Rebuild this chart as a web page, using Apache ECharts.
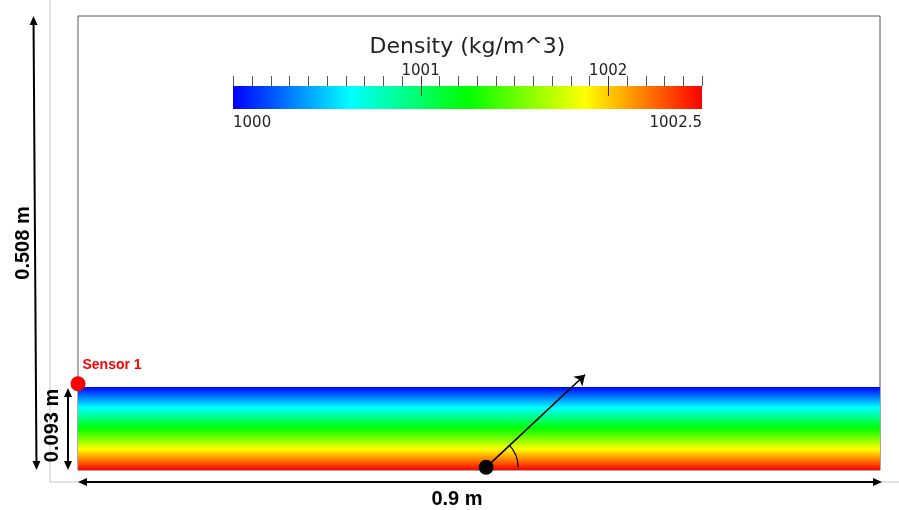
<!DOCTYPE html>
<html>
<head>
<meta charset="utf-8">
<script src="https://cdn.jsdelivr.net/npm/echarts@6/dist/echarts.min.js"></script>
<style>
html,body{margin:0;padding:0;background:#fff}
#main{width:899px;height:510px}
</style>
</head>
<body>
<div id="main"></div>
<script>
// tank geometry (m)
var tankWidth = 0.9
var tankHeight = 0.508
var layerDepth = 0.093
// density colour scale (kg/m^3)
var densityMin = 1000
var densityMax = 1002.5
var densityStep = 0.1
var densityTickLabels = [1001, 1002]
var densityEndLabels = [1000, 1002.5]
var rainbow = ['#0000ff', '#00ffff', '#00ff00', '#ffff00', '#ff0000']
// points [x, z] in m
var sensorPos = [0, 0.0965]
var sourcePos = [0.458, 0.003]
var beamEnd = [0.569, 0.1066]

// colour bar tick marks every 0.1, long ones where labelled
var barTicks = []
for (var k = 0; densityMin + k * densityStep <= densityMax + 1e-9; k++) {
    var v = Math.round((densityMin + k * densityStep) * 10) / 10
    barTicks.push([v, densityTickLabels.indexOf(v) >= 0 ? 1 : 0])
}

var chart = echarts.init(document.getElementById('main'))

function stops(){
    return rainbow.map(function(c, i){ return {offset: i / (rainbow.length - 1), color: c} })
}

var option = {
    backgroundColor: '#fff',
    animation: false,
    grid: [
        {left: 78, top: 16, width: 802, height: 454, show: true, borderColor: '#555', borderWidth: 1, backgroundColor: 'transparent'},
        {left: 233, top: 86, width: 469, height: 23}
    ],
    xAxis: [
        {gridIndex: 0, type: 'value', min: 0, max: tankWidth, show: false},
        {
            gridIndex: 1, type: 'value', position: 'top', min: densityMin, max: densityMax,
            axisLine: {show: false}, axisTick: {show: false},
            axisLabel: {customValues: densityTickLabels, formatter: function(v){ return String(v) },
                margin: 7, fontSize: 15, color: '#222', fontFamily: 'DejaVu Sans'},
            splitLine: {show: false}
        },
        {
            gridIndex: 1, type: 'value', position: 'bottom', min: densityMin, max: densityMax,
            axisLine: {show: false}, axisTick: {show: false},
            axisLabel: {customValues: densityEndLabels, formatter: function(v){ return String(v) }, margin: 7,
                fontSize: 15, color: '#222', fontFamily: 'DejaVu Sans', alignMinLabel: 'left', alignMaxLabel: 'right'},
            splitLine: {show: false}
        }
    ],
    yAxis: [
        {gridIndex: 0, type: 'value', min: 0, max: tankHeight, show: false},
        {gridIndex: 1, type: 'value', min: 0, max: 1, show: false}
    ],
    series: [
        {
            // stratified layer, density 1000 at the top to 1002.5 at the bottom
            type: 'custom', xAxisIndex: 0, yAxisIndex: 0, z: 2,
            data: [[0, tankWidth, 0, layerDepth]],
            renderItem: function(params, api){
                var p0 = api.coord([api.value(0), api.value(3)])
                var p1 = api.coord([api.value(1), api.value(2)])
                return {type: 'rect', shape: {x: p0[0], y: p0[1], width: p1[0] - p0[0], height: p1[1] - p0[1]},
                    style: {fill: new echarts.graphic.LinearGradient(0, 0, 0, 1, stops())}}
            }
        },
        {
            // colour bar
            type: 'custom', xAxisIndex: 1, yAxisIndex: 1, z: 2,
            data: [[densityMin, densityMax]],
            renderItem: function(params, api){
                var p0 = api.coord([api.value(0), 1])
                var p1 = api.coord([api.value(1), 0])
                return {type: 'rect', shape: {x: p0[0], y: p0[1], width: p1[0] - p0[0], height: p1[1] - p0[1]},
                    style: {fill: new echarts.graphic.LinearGradient(0, 0, 1, 0, stops())}}
            }
        },
        {
            // colour bar ticks
            type: 'custom', xAxisIndex: 1, yAxisIndex: 1, z: 5,
            data: barTicks,
            renderItem: function(params, api){
                var p = api.coord([api.value(0), 1])
                var x = Math.round(p[0]) + 0.5
                var major = api.value(1) === 1
                return {type: 'line', shape: {x1: x, y1: p[1] - 10, x2: x, y2: p[1] + (major ? 10 : 0)},
                    style: {stroke: major ? '#333' : '#555', lineWidth: 1}}
            }
        },
        {
            type: 'lines', coordinateSystem: 'cartesian2d', xAxisIndex: 0, yAxisIndex: 0, z: 4,
            symbol: ['none', 'arrow'], symbolSize: 10,
            lineStyle: {color: '#000', width: 1.6, opacity: 1},
            data: [{coords: [sourcePos, beamEnd]}]
        },
        {
            // angle arc at the source
            type: 'custom', xAxisIndex: 0, yAxisIndex: 0, z: 4,
            data: [[sourcePos[0], sourcePos[1], beamEnd[0], beamEnd[1]]],
            renderItem: function(params, api){
                var a = api.coord([api.value(0), api.value(1)])
                var b = api.coord([api.value(2), api.value(3)])
                var ang = Math.atan2(b[1] - a[1], b[0] - a[0])
                return {type: 'arc', shape: {cx: a[0], cy: a[1], r: 32, startAngle: ang, endAngle: 0, clockwise: true},
                    style: {stroke: '#000', fill: null, lineWidth: 1.2}}
            }
        },
        {
            type: 'scatter', xAxisIndex: 0, yAxisIndex: 0, z: 6,
            symbolSize: 15, itemStyle: {color: '#000', opacity: 1},
            data: [sourcePos]
        },
        {
            type: 'scatter', xAxisIndex: 0, yAxisIndex: 0, z: 6,
            symbolSize: 15, itemStyle: {color: '#f00', opacity: 1},
            label: {show: true, formatter: 'Sensor 1', position: [12, -18], color: '#f00',
                fontSize: 14, fontWeight: 'bold', fontFamily: 'Liberation Sans'},
            data: [sensorPos]
        }
    ]
}
chart.setOption(option)

function px(p){ return chart.convertToPixel({gridIndex: 0}, p) }

function head(tip, from, len, w){
    var dx = tip[0] - from[0], dy = tip[1] - from[1]
    var L = Math.sqrt(dx * dx + dy * dy), ux = dx / L, uy = dy / L
    var bx = tip[0] - ux * len, by = tip[1] - uy * len
    return {type: 'polygon', shape: {points: [tip, [bx - uy * w, by + ux * w], [bx + uy * w, by - ux * w]]},
        style: {fill: '#000'}, z: 5}
}
function dimArrow(a, b){
    var dx = b[0] - a[0], dy = b[1] - a[1]
    var L = Math.sqrt(dx * dx + dy * dy), ux = dx / L, uy = dy / L, len = 9
    return [
        {type: 'line', shape: {x1: a[0] + ux * len, y1: a[1] + uy * len, x2: b[0] - ux * len, y2: b[1] - uy * len},
            style: {stroke: '#000', lineWidth: 2}, z: 5},
        head(a, b, len, 4), head(b, a, len, 4)
    ]
}
function label(text, x, y, rot){
    return {type: 'text', x: x, y: y, rotation: rot || 0, z: 5,
        style: {text: text, fill: '#000', font: 'bold 20px "Liberation Sans"', align: 'center', verticalAlign: 'middle'}}
}

var c00 = px([0, 0]), c0H = px([0, tankHeight]), cW0 = px([tankWidth, 0]), c0L = px([0, layerDepth])
var g = []
// light frame lines
g.push({type: 'line', shape: {x1: c00[0] - 28, y1: 0, x2: c00[0] - 28, y2: c00[1] + 12}, style: {stroke: '#c8c8c8', lineWidth: 1}, z: 1})
g.push({type: 'line', shape: {x1: c00[0] - 28, y1: c00[1] + 12, x2: 899, y2: c00[1] + 12}, style: {stroke: '#c8c8c8', lineWidth: 1}, z: 1})
g = g.concat(dimArrow([c0H[0] - 44.5, c0H[1]], [c00[0] - 41.5, c00[1]]))
g = g.concat(dimArrow([c0L[0] - 10, c0L[1] + 1], [c00[0] - 10, c00[1]]))
g = g.concat(dimArrow([c00[0], c00[1] + 12], [cW0[0] + 2, cW0[1] + 12]))
g.push(label('0.508 m', c00[0] - 55, (c0H[1] + c00[1]) / 2, Math.PI / 2))
g.push(label('0.093 m', c00[0] - 26, (c0L[1] + c00[1]) / 2 - 3, Math.PI / 2))
g.push(label('0.9 m', (c00[0] + cW0[0]) / 2 - 22, c00[1] + 29, 0))
// colour bar title
var bar = chart.convertToPixel({gridIndex: 1}, [(densityMin + densityMax) / 2, 1])
g.push({type: 'text', x: bar[0], y: bar[1] - 39, z: 5,
    style: {text: 'Density (kg/m^3)', fill: '#222', font: '22px "DejaVu Sans"', align: 'center', verticalAlign: 'middle'}})
chart.setOption({graphic: g})
</script>
</body>
</html>
